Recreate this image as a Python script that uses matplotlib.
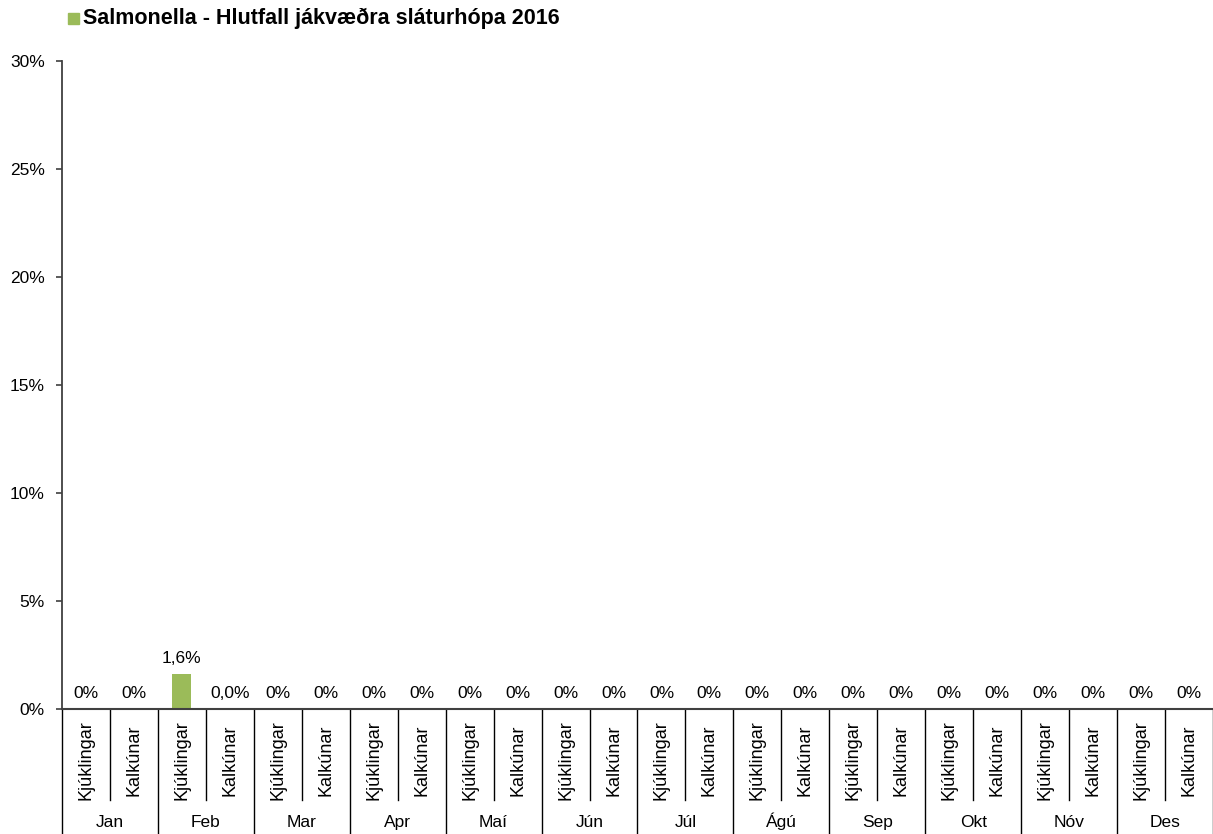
import matplotlib
matplotlib.use("Agg")
import matplotlib.pyplot as plt
from matplotlib.ticker import FuncFormatter, MultipleLocator

plt.rcParams['font.family'] = ['Liberation Sans', 'DejaVu Sans']

months = ["Jan", "Feb", "Mar", "Apr", "Maí", "Jún", "Júl", "Ágú", "Sep", "Okt", "Nóv", "Des"]
species = ["Kjúklingar", "Kalkúnar"]
kjuklingar = [0, 1.6, 0, 0, 0, 0, 0, 0, 0, 0, 0, 0]
kalkunar = [0, 0.0, 0, 0, 0, 0, 0, 0, 0, 0, 0, 0]
kjuk_labels = ["0%", "1,6%", "0%", "0%", "0%", "0%", "0%", "0%", "0%", "0%", "0%", "0%"]
kalk_labels = ["0%", "0,0%", "0%", "0%", "0%", "0%", "0%", "0%", "0%", "0%", "0%", "0%"]
title = "Salmonella - Hlutfall jákvæðra sláturhópa 2016"

green = "#9BBB59"
W, H = 1213, 834
fig = plt.figure(figsize=(W / 100, H / 100), dpi=100)
ax = fig.add_axes([62 / W, (H - 709) / H, (1213 - 62) / W, 648 / H])

values, labels = [], []
for a, b, la, lb in zip(kjuklingar, kalkunar, kjuk_labels, kalk_labels):
    values += [a, b]
    labels += [la, lb]
x = list(range(len(values)))
bars = ax.bar(x, values, width=0.4, color=green)
for xi, v, lab in zip(x, values, labels):
    ax.annotate(lab, (xi, v), xytext=(0, 6), textcoords="offset points",
                ha="center", va="bottom", fontsize=12.5, color="#000000")

ax.set_xlim(-0.5, len(values) - 0.5)
ax.set_ylim(0, 30)
ax.yaxis.set_major_locator(MultipleLocator(5))
ax.yaxis.set_major_formatter(FuncFormatter(lambda v, p: f"{v:.0f}%"))
ax.tick_params(axis="y", direction="out", length=4, width=1.2, labelsize=12.5, pad=8.5, color="#404040")
ax.set_xticks([])
for s in ["top", "right"]:
    ax.spines[s].set_visible(False)
ax.spines["left"].set_color("#404040")
ax.spines["bottom"].set_color("#404040")
ax.spines["left"].set_linewidth(1.3)
ax.spines["bottom"].set_linewidth(1.5)

trans = ax.get_xaxis_transform()
# convert pixel y to axes fraction
def yf(py):
    return (709 - py) / 648

for i in range(len(values) + 1):
    xb = i - 0.5
    if i % 2 == 0:
        ax.plot([xb, xb], [0, yf(834)], transform=trans, color="#000000", lw=1, clip_on=False)
    else:
        ax.plot([xb, xb], [0, yf(800)], transform=trans, color="#000000", lw=1, clip_on=False)

for xi in x:
    ax.text(xi, yf(760), species[xi % 2], transform=trans, rotation=90,
            ha="center", va="center", fontsize=13)
for m, name in enumerate(months):
    ax.text(2 * m + 0.5, yf(827), name, transform=trans, ha="center", va="baseline", fontsize=12.5)

# legend-like title
fig.patches.append(plt.Rectangle((68 / W, 1 - 24 / H), 11 / W, 11 / H, transform=fig.transFigure,
                                 color=green, figure=fig))
fig.text(83 / W, 1 - 18.5 / H, title, fontsize=15.5, fontweight="bold", ha="left", va="center")

fig.savefig("out.png", dpi=100)
